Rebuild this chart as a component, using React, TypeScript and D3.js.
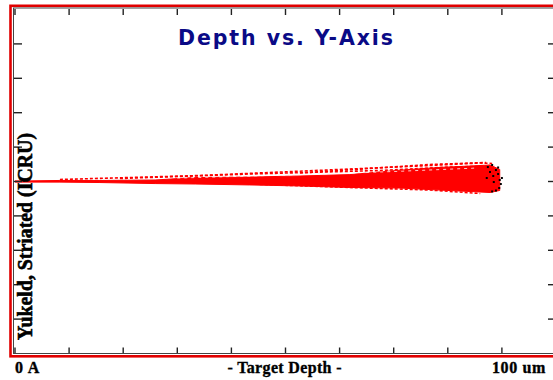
import React from "react";
import * as d3 from "d3";

// Axis ticks (depth in um, lateral offset in arbitrary units)
const xTickValues = [0, 10, 20, 30, 40, 50, 60, 70, 80, 90, 100];
const yTickValues = [-40, -30, -20, -10, 0, 10, 20, 30, 40];

// Dense core of the ion tracks: lateral envelope vs. depth
const bandDepth = [0, 2.4, 8.3, 15.7, 25.9, 33.3, 43.4, 52.7, 61.9, 71.2, 78.6, 84.1, 87.8, 89.6];
const bandUpper = [0.15, 0.15, 0.3, 0.3, 0.44, 1.16, 1.3, 1.6, 2.0, 3.3, 4.1, 4.5, 4.8, 3.5];
const bandLower = [-0.15, -0.15, -0.15, -0.3, -0.6, -0.73, -1.0, -1.3, -1.74, -1.9, -2.5, -2.9, -3.2, -2.6];

// Individual straggling tracks outside the core
const trackADepth = [8.3, 34.2, 61.9, 74.9, 86.0, 88.2];
const trackAY = [0.58, 1.74, 3.63, 4.51, 5.38, 5.23];
const trackBDepth = [19.4, 43.4, 67.5, 80.4, 88.7];
const trackBY = [0.87, 2.18, 3.2, 4.2, 4.5];
const trackCDepth = [52.7, 76.7, 87.1];
const trackCY = [2.47, 4.94, 5.52];
const trackDDepth = [43.4, 61.9, 76.7, 86.0];
const trackDY = [-0.73, -1.74, -2.47, -3.49];
const trackEDepth = [30.0, 50.0, 70.0, 85.0];
const trackEY = [1.0, 1.9, 2.9, 3.9];

// Final positions of stopped ions
const stopDepth = [87.2, 87.8, 88.4, 88.9, 89.3, 89.6, 89.8, 89.5, 88.9, 88.2, 87.4, 88.2, 89.3, 90.0, 88.5];
const stopY = [1.02, 2.76, 1.6, 3.34, 2.18, 0.44, -0.73, -1.89, -2.62, -2.9, 4.2, 4.8, 4.07, 1.02, -0.15];

const W = 553;
const H = 380;

export default function App() {
  const x = d3.scaleLinear().domain([0, 100]).range([15, 556]);
  const y = d3.scaleLinear().domain([-50, 50]).range([353.5, 9.5]);

  const band = d3
    .area<number>()
    .x((_, i) => x(bandDepth[i]))
    .y0((_, i) => y(bandLower[i]))
    .y1((_, i) => y(bandUpper[i]))
    .curve(d3.curveLinear);

  const line = (ds: number[], ys: number[]) =>
    d3
      .line<number>()
      .x((_, i) => x(ds[i]))
      .y((_, i) => y(ys[i]))(ds) || "";

  const tracks = [
    { d: trackADepth, v: trackAY },
    { d: trackBDepth, v: trackBY },
    { d: trackCDepth, v: trackCY },
    { d: trackDDepth, v: trackDY },
  ];

  const axisColor = "#222";

  return (
    <svg
      width={W}
      height={H}
      style={{ position: "absolute", left: 0, top: 0, background: "#fff", overflow: "hidden" }}
    >
      {/* outer frame */}
      <rect x={10.5} y={5.8} width={600} height={350.5} fill="none" stroke="#e00000" strokeWidth={2.6} />
      <rect x={13.5} y={8} width={600} height={345.5} fill="none" stroke="#444" strokeWidth={1} />

      {/* title */}
      <text
        x={285.5}
        y={45}
        textAnchor="middle"
        fontFamily="DejaVu Sans"
        fontWeight="bold"
        fontSize={20.5}
        fill="#0a0a86"
        textLength={215}
        lengthAdjust="spacing"
      >
        Depth vs. Y-Axis
      </text>

      {/* tracks */}
      <line x1={x(0)} x2={x(30)} y1={y(0)} y2={y(0)} stroke="#ff0000" strokeWidth={1.5} />
      <path d={band(bandDepth) || ""} fill="#ff0000" stroke="#ff0000" strokeWidth={1} />
      <path
        d={line(trackEDepth, trackEY)}
        fill="none"
        stroke="#ffffff"
        strokeWidth={0.8}
        strokeDasharray="3 4"
      />
      {tracks.map((t, i) => (
        <path
          key={i}
          d={line(t.d, t.v)}
          fill="none"
          stroke="#ff0000"
          strokeWidth={1.6}
          strokeDasharray="3 2"
        />
      ))}
      {stopDepth.map((d, i) => (
        <rect key={i} x={x(d) - 1} y={y(stopY[i]) - 1} width={2} height={2} fill="#000" />
      ))}

      {/* ticks */}
      {xTickValues.map((v) => (
        <g key={"x" + v}>
          <line x1={x(v)} x2={x(v)} y1={9} y2={15} stroke={axisColor} strokeWidth={1.4} />
          <line x1={x(v)} x2={x(v)} y1={347.5} y2={353} stroke={axisColor} strokeWidth={1.4} />
        </g>
      ))}
      {yTickValues.map((v) => (
        <g key={"y" + v}>
          <line x1={14} x2={22} y1={y(v)} y2={y(v)} stroke={axisColor} strokeWidth={1.4} />
          <line x1={548} x2={556} y1={y(v)} y2={y(v)} stroke={axisColor} strokeWidth={1.4} />
        </g>
      ))}

      {/* y label */}
      <text
        transform="translate(32,236.5) rotate(-90)"
        textAnchor="middle"
        fontFamily="Liberation Serif"
        fontWeight="bold"
        fontSize={21}
        fill="#000"
        stroke="#000"
        strokeWidth={0.6}
        textLength={207}
        lengthAdjust="spacingAndGlyphs"
      >
        Yukeld, Striated (ICRU)
      </text>

      {/* x labels */}
      <g fontFamily="Liberation Serif" fontWeight="bold" fontSize={16} fill="#000" stroke="#000" strokeWidth={0.35}>
        <text x={15} y={373} letterSpacing={0.8}>0 A</text>
        <text x={284.5} y={373} textAnchor="middle" textLength={114} lengthAdjust="spacing">- Target Depth -</text>
        <text x={492} y={373} letterSpacing={0.6}>100 um</text>
      </g>
    </svg>
  );
}
